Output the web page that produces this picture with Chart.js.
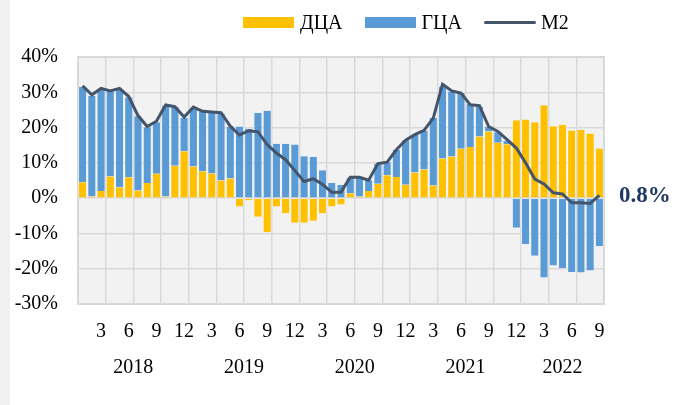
<!DOCTYPE html>
<html><head><meta charset="utf-8">
<script src="https://cdn.jsdelivr.net/npm/chart.js@4.4.1/dist/chart.umd.min.js"></script>
<style>
html,body{margin:0;padding:0;background:#fff;}
#wrap{position:relative;width:674px;height:405px;overflow:hidden;background:#fff;}
#strip{position:absolute;left:0;top:0;width:10px;height:405px;background:#f0f0f0;}
canvas{position:absolute;left:0;top:0;}
#legend{position:absolute;left:243px;top:10px;height:24px;display:flex;align-items:center;font-family:'Liberation Serif','Times New Roman',serif;font-size:20px;color:#000;white-space:nowrap;}
.sw{display:inline-block;width:51px;height:11px;margin-right:6px;}
.ln{display:inline-block;width:52px;height:3px;margin-right:5px;border-radius:1.5px;}
.lt{margin-right:22px;}
</style></head>
<body><div id="wrap"><div id="strip"></div><canvas id="c" width="674" height="405"></canvas><div id="legend"></div></div>
<script>
const years = ['2018','2019','2020','2021','2022'];
const monthsPerYear = [12,12,12,12,9];
const months = [1,2,3,4,5,6,7,8,9,10,11,12,
                1,2,3,4,5,6,7,8,9,10,11,12,
                1,2,3,4,5,6,7,8,9,10,11,12,
                1,2,3,4,5,6,7,8,9,10,11,12,
                1,2,3,4,5,6,7,8,9];
const seriesNames = ['ДЦА','ГЦА','M2'];
const dca = [4.5,0.5,2.0,6.1,3.1,5.9,2.2,4.3,6.9,0.5,9.2,13.3,
             9.0,7.6,7.0,5.0,5.6,-2.4,-0.6,-5.3,-9.6,-2.4,-4.3,-7.0,
             -7.0,-6.4,-4.3,-2.4,-1.8,1.4,0.5,2.0,4.1,6.5,6.0,3.8,
             7.3,8.1,3.6,11.2,11.8,14.0,14.5,17.5,18.9,15.7,15.3,22.1,
             22.3,21.5,26.3,20.4,20.8,19.2,19.4,18.3,14.1];
const gca = [27.1,28.5,28.9,24.1,27.6,22.7,21.0,15.8,14.6,25.7,16.6,9.4,
             16.5,17.0,17.2,19.0,14.7,20.3,19.7,24.1,24.8,15.4,15.4,15.2,
             11.9,11.7,7.9,4.3,3.7,4.4,5.4,3.1,5.7,3.7,7.7,12.6,
             10.7,11.1,19.1,20.4,18.4,15.8,12.2,8.5,1.3,3.0,1.0,-8.4,
             -13.0,-16.3,-22.5,-19.1,-19.8,-20.9,-21.1,-20.5,-13.6];
const m2 = [31.8,29.3,31.1,30.4,31.1,28.8,23.4,20.3,21.8,26.4,25.9,23.0,
            25.8,24.6,24.4,24.2,20.4,17.9,19.1,18.8,15.2,12.8,10.9,7.8,
            4.7,5.5,3.9,1.7,1.7,5.9,5.9,5.1,9.8,10.2,13.7,16.4,
            18.0,19.2,22.7,32.3,30.4,29.8,26.5,26.2,20.3,18.9,16.6,14.2,
            10.0,5.4,4.0,1.5,1.2,-1.3,-1.3,-1.5,0.8];
const yTicks = [-30,-20,-10,0,10,20,30,40];

const COL_DCA = '#FFC000', COL_GCA = '#5B9BD5', COL_M2 = '#44546A', GRID = '#D9D9D9', LABEL_COL = '#1F3864';
const FONT = "'Liberation Serif', 'Times New Roman', serif";

// year label positions (centre of each year's months)
const yearPos = [];
{ let s = 0; monthsPerYear.forEach(n => { yearPos.push(s + n / 2 - 0.5); s += n; }); }

// HTML legend
const lg = document.getElementById('legend');
[[seriesNames[0], COL_DCA, 'sw'], [seriesNames[1], COL_GCA, 'sw'], [seriesNames[2], COL_M2, 'ln']].forEach(([t, c, cls]) => {
  const s = document.createElement('span'); s.className = cls; s.style.background = c; lg.appendChild(s);
  const x = document.createElement('span'); x.className = 'lt'; x.textContent = t; lg.appendChild(x);
});

const plotBg = {
  id: 'plotBg',
  beforeDraw(chart) {
    const {ctx, chartArea: a} = chart;
    ctx.save(); ctx.fillStyle = '#F2F2F2'; ctx.fillRect(a.left, a.top, a.width, a.height); ctx.restore();
  },
  beforeDatasetsDraw(chart) {
    const {ctx, chartArea: a} = chart;
    ctx.save(); ctx.strokeStyle = GRID; ctx.lineWidth = 2; ctx.strokeRect(a.left, a.top, a.width, a.height); ctx.restore();
  }
};
const endLabel = {
  id: 'endLabel',
  afterDatasetsDraw(chart) {
    const meta = chart.getDatasetMeta(2);
    const pt = meta.data[meta.data.length - 1];
    const v = m2[m2.length - 1];
    const ctx = chart.ctx;
    ctx.save();
    ctx.font = 'bold 23px ' + FONT; ctx.fillStyle = LABEL_COL; ctx.textAlign = 'left'; ctx.textBaseline = 'middle';
    ctx.fillText(v.toFixed(1) + '%', chart.chartArea.right + 15, pt.y + 1);
    ctx.restore();
  }
};

Chart.defaults.font.family = FONT;
Chart.defaults.color = '#000';

const barStyle = {stack: 'bars', order: 1, barPercentage: 0.9, categoryPercentage: 1,
                  borderColor: '#FFFFFF', borderWidth: {left: 0.6, right: 0.6, top: 0, bottom: 0}, borderSkipped: false};

new Chart(document.getElementById('c'), {
  type: 'bar',
  data: {
    labels: months.map(String),
    datasets: [
      Object.assign({label: seriesNames[0], data: dca, backgroundColor: COL_DCA}, barStyle),
      Object.assign({label: seriesNames[1], data: gca, backgroundColor: COL_GCA}, barStyle),
      {type: 'line', label: seriesNames[2], data: m2, borderColor: COL_M2, borderWidth: 3, pointRadius: 0, tension: 0, stack: 'm2', order: 0, fill: false}
    ]
  },
  options: {
    responsive: false, animation: false, devicePixelRatio: 1,
    layout: {padding: {left: 0, right: 70, top: 57, bottom: 25}},
    plugins: {legend: {display: false}, tooltip: {enabled: false}},
    scales: {
      x: {
        type: 'category', stacked: true, offset: true, weight: 0,
        grid: {offset: true, drawTicks: false, lineWidth: 1.5, color: c => (c.index !== undefined && c.index % 3 === 0) ? GRID : 'rgba(0,0,0,0)'},
        border: {display: false},
        ticks: {autoSkip: false, maxRotation: 0, minRotation: 0, padding: 16, font: {size: 20},
                callback: (v, i) => months[i] % 3 === 0 ? String(months[i]) : ''},
        afterFit: s => { s.height = 38; }
      },
      xYear: {
        type: 'linear', axis: 'x', position: 'bottom', weight: 1, offset: false, grace: 0,
        min: -0.5, max: months.length - 0.5,
        grid: {display: false, drawTicks: false, offset: false}, border: {display: false},
        afterBuildTicks: s => { s.ticks = yearPos.map(v => ({value: v})); },
        ticks: {padding: 14, font: {size: 20}, autoSkip: false, maxRotation: 0, callback: (v, i) => years[i]},
        afterFit: s => { s.height = 38; }
      },
      y: {
        stacked: true, min: yTicks[0], max: yTicks[yTicks.length - 1],
        afterBuildTicks: s => { s.ticks = yTicks.map(v => ({value: v})); },
        ticks: {padding: 20, font: {size: 20}, callback: v => v + '%'},
        grid: {color: GRID, lineWidth: 1.5, drawTicks: false}, border: {display: false},
        afterFit: s => { s.width = 78; }
      }
    }
  },
  plugins: [plotBg, endLabel]
});
</script>
</body></html>
